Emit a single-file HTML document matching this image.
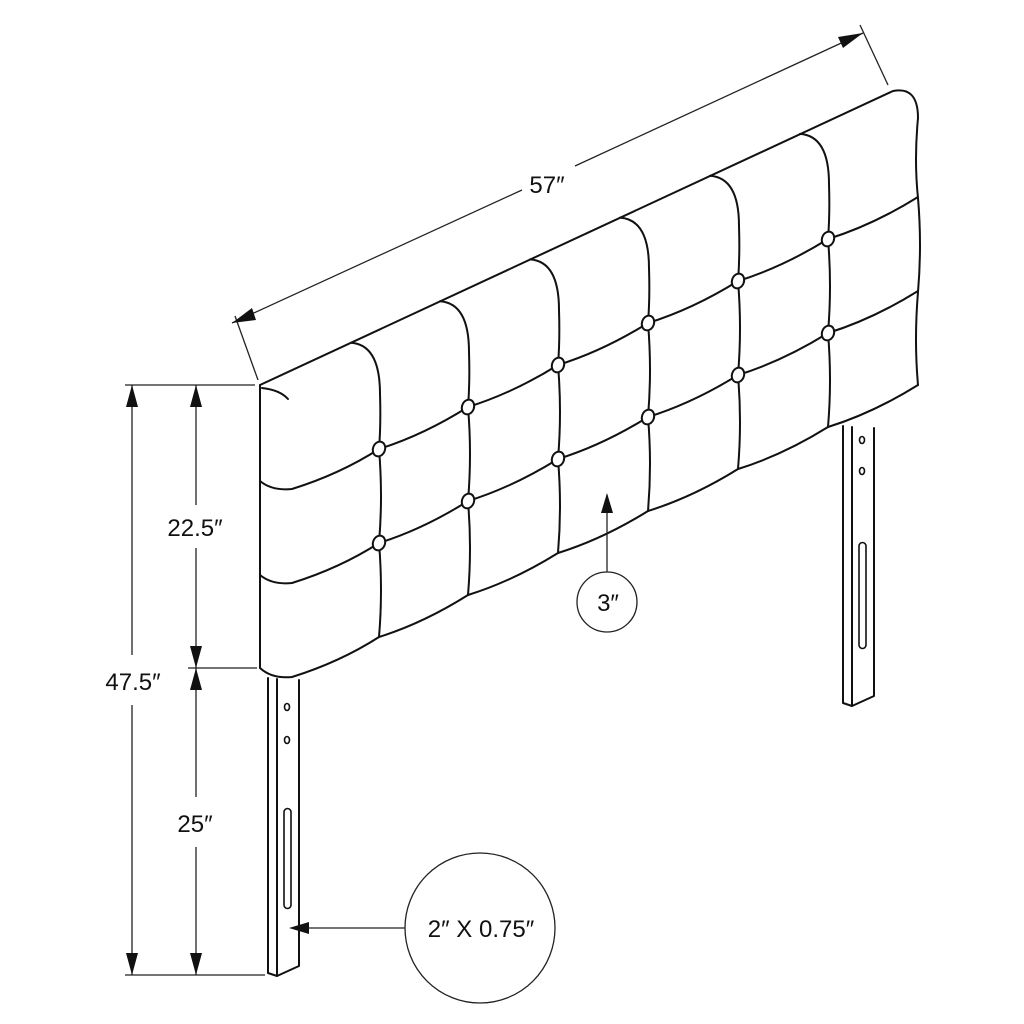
<!DOCTYPE html>
<html><head><meta charset="utf-8"><style>
html,body{margin:0;padding:0;background:#fff;width:1024px;height:1024px;overflow:hidden}
svg{display:block}
text{font-family:"Liberation Sans",sans-serif;fill:#111}
</style></head><body>
<svg id="s" width="1024" height="1024" viewBox="0 0 1024 1024" xmlns="http://www.w3.org/2000/svg">
<g id="g" fill="none" stroke="#111" stroke-width="2" stroke-linecap="round" stroke-linejoin="round"></g>
<g stroke="#222" stroke-width="1.3" fill="none">
<line x1="232" y1="323" x2="522" y2="190"/>
<line x1="575" y1="166" x2="863" y2="33"/>
<line x1="235" y1="316" x2="258" y2="380"/>
<line x1="860" y1="25" x2="888" y2="85"/>
<line x1="125" y1="385" x2="255" y2="385"/>
<line x1="188" y1="668" x2="257" y2="668"/>
<line x1="125" y1="975" x2="265" y2="975"/>
<line x1="132" y1="385" x2="132" y2="655"/>
<line x1="132" y1="705" x2="132" y2="975"/>
<line x1="196" y1="385" x2="196" y2="505"/>
<line x1="196" y1="548" x2="196" y2="668"/>
<line x1="196" y1="668" x2="196" y2="797"/>
<line x1="196" y1="847" x2="196" y2="975"/>
<line x1="607" y1="495" x2="607" y2="572"/>
<line x1="297" y1="928" x2="405" y2="928"/>
<circle cx="607" cy="602" r="30"/>
<circle cx="480" cy="928" r="75"/>
</g>
<g fill="#111" stroke="none">
<polygon points="232,323 252,308 256,320"/>
<polygon points="863,33 843,48 838,37"/>
<polygon points="132,385 126,407 138,407"/>
<polygon points="132,975 126,953 138,953"/>
<polygon points="196,385 190,407 202,407"/>
<polygon points="196,668 190,646 202,646"/>
<polygon points="196,668 190,690 202,690"/>
<polygon points="196,975 190,953 202,953"/>
<polygon points="607,493 601,513 613,513"/>
<polygon points="289,928 309,922 309,934"/>
</g>
<text x="547" y="193" font-size="24" text-anchor="middle">57″</text>
<text x="195" y="536" font-size="24" text-anchor="middle">22.5″</text>
<text x="133" y="690" font-size="24" text-anchor="middle">47.5″</text>
<text x="195" y="832" font-size="24" text-anchor="middle">25″</text>
<text x="608" y="611" font-size="24" text-anchor="middle">3″</text>
<text x="481" y="937" font-size="24" text-anchor="middle">2″ X 0.75″</text>
</svg>
<script>
var g=document.getElementById('g'),NS='http://www.w3.org/2000/svg';
function P(d,extra){var p=document.createElementNS(NS,'path');p.setAttribute('d',d);if(extra)for(var k in extra)p.setAttribute(k,extra[k]);g.appendChild(p);}
function tp(x){return 385-0.465*(x-260);}
var X=[260,379,468,558,648,738,828,918];
function Y(i,j){return 449-42*(i-1)+94*(j-1);}
P('M260,385 L893,91 Q918,86 918,118');
P('M260,385 L260,668');
P('M262,388 Q280,390 288,399');
P('M918,118 Q914,160 918,198 Q922,245 918,292 Q914,340 918,385');
for(var j=1;j<=3;j++){
  var y1=Y(1,j);
  var d='M260,'+(y1+32-(j==3?1:0))+' Q272,'+(y1+42)+' 292,'+(y1+40)+' Q340,'+(y1+25)+' 379,'+y1;
  for(var i=1;i<=6;i++){
    var xa=X[i],xb=X[i+1],ya=Y(i,j),yb=Y(i+1,j);
    var mx=(xa+xb)/2,my=(ya+yb)/2+7;
    d+=' Q'+mx+','+my+' '+xb+','+yb;
  }
  P(d);
}
for(var i=1;i<=6;i++){
  var x=X[i],yb1=Y(i,1);
  var d='M'+(x-28)+','+tp(x-28).toFixed(1)+' Q'+(x+1)+','+(tp(x-28)+2).toFixed(1)+' '+(x+1)+','+(yb1-55)+' Q'+(x+2)+','+(yb1-25)+' '+x+','+yb1;
  for(var j=1;j<=2;j++){
    var ya=Y(i,j),yb=Y(i,j+1);
    d+=' Q'+(x+4)+','+((ya+yb)/2)+' '+x+','+yb;
  }
  P(d);
}
for(var i=1;i<=6;i++)for(var j=1;j<=2;j++){
  var e=document.createElementNS(NS,'ellipse');
  e.setAttribute('cx',X[i]);e.setAttribute('cy',Y(i,j));e.setAttribute('rx',6);e.setAttribute('ry',7.5);
  e.setAttribute('fill','#fff');e.setAttribute('transform','rotate(20 '+X[i]+' '+Y(i,j)+')');g.appendChild(e);
}
function leg(x0,x1,x2,yt,yb,h1,h2,s1,s2){
  P('M'+x0+','+(yt-4)+' L'+x0+','+yb+' L'+x1+','+(yb+3)+' L'+x2+','+(yb-7)+' L'+x2+','+(yt-2));
  P('M'+x1+','+(yt-3)+' L'+x1+','+(yb+3));
  var cx=(x1+x2)/2;
  P('M'+(cx-1)+','+h1+' m-2.5,0 a2.5,3.5 0 1,0 5,0 a2.5,3.5 0 1,0 -5,0',{'stroke-width':1.6});
  P('M'+(cx-1)+','+h2+' m-2.5,0 a2.5,3.5 0 1,0 5,0 a2.5,3.5 0 1,0 -5,0',{'stroke-width':1.6});
  P('M'+(cx-4)+','+(s1+3)+' a3.5,3.5 0 0,1 7,0 L'+(cx+3)+','+(s2-3)+' a3.5,3.5 0 0,1 -7,0 Z',{'stroke-width':1.6});
}
leg(268,277,299,682,973,707,740,809,908);
leg(843,852,874,430,703,440,471,543,648);
</script>
</body></html>
